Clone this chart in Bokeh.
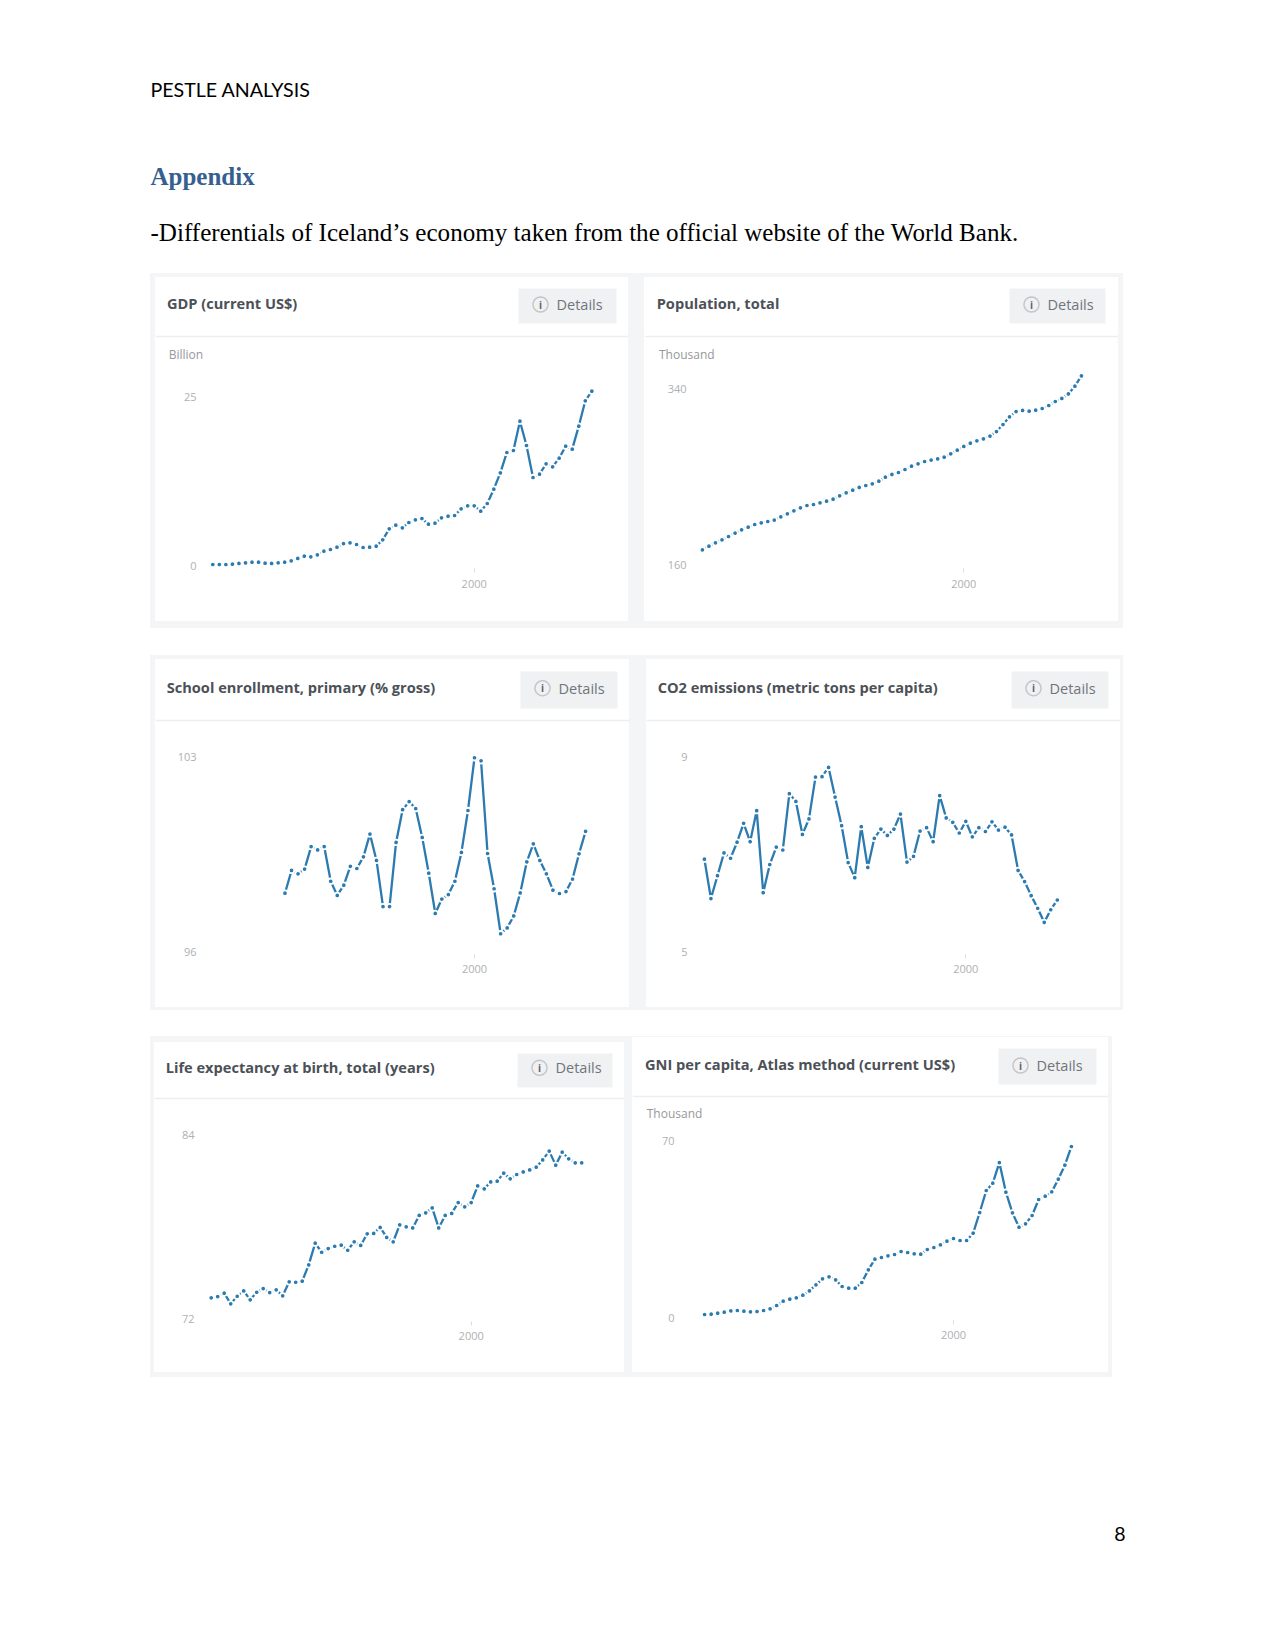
from bokeh.embed import file_html
from bokeh.resources import INLINE
from bokeh.layouts import column, row
from bokeh.models import BoxAnnotation, FixedTicker, Label, PolyAnnotation, Range1d
from bokeh.plotting import figure
import math

years_gdp = list(range(1960, 2019))
gdp = [0.15,0.15,0.15,0.2,0.3,0.39,0.49,0.49,0.35,0.3,0.39,0.49,0.69,1.04,1.38,1.28,1.58,2.12,2.37,2.71,3.25,3.35,3.11,2.66,2.71,2.86,3.8,5.42,5.97,5.57,6.36,6.76,6.95,6.11,6.26,7.05,7.3,7.4,8.38,8.83,8.83,8.04,9.17,11.29,13.71,16.72,17.01,21.35,17.75,13.02,13.51,15.04,14.6,15.88,17.65,17.21,20.61,24.36,25.79]
years_pop = list(range(1960, 2019))
population = [175.4,179.1,182.5,185.6,189.0,192.5,195.9,198.6,201.3,203.0,204.4,205.8,209.2,212.3,215.3,218.4,220.8,221.8,223.5,225.2,227.3,230.7,233.8,236.5,239.3,241.3,243.0,245.7,249.8,252.6,254.6,257.7,261.1,263.5,265.9,267.3,268.6,270.3,273.8,277.5,281.3,284.7,287.1,289.1,291.9,296.6,303.8,311.7,317.1,318.2,317.5,318.5,320.2,323.3,327.4,330.5,335.2,343.1,353.7]
years_school = list(range(1971, 2018))
school = [98.10,98.92,98.80,98.97,99.78,99.66,99.78,98.53,98.02,98.39,99.07,98.99,99.41,100.23,99.28,97.62,97.62,99.93,101.11,101.40,101.15,100.11,98.82,97.37,97.89,98.05,98.53,99.57,101.08,102.98,102.87,99.53,98.26,96.64,96.85,97.28,98.11,99.23,99.88,99.28,98.80,98.21,98.09,98.16,98.61,99.52,100.33]
years_co2 = list(range(1960, 2015))
co2 = [6.90,6.09,6.56,7.03,6.92,7.25,7.64,7.26,7.90,6.21,6.79,7.15,7.09,8.25,8.09,7.41,7.73,8.59,8.60,8.79,8.18,7.59,6.83,6.52,7.57,6.73,7.33,7.52,7.39,7.52,7.83,6.84,6.96,7.48,7.55,7.26,8.21,7.75,7.66,7.44,7.68,7.36,7.55,7.47,7.67,7.50,7.56,7.40,6.67,6.44,6.15,5.89,5.60,5.86,6.06]
years_life = list(range(1960, 2018))
life = [73.39,73.47,73.69,73.00,73.49,73.84,73.26,73.75,73.99,73.73,73.91,73.52,74.43,74.40,74.47,75.53,76.94,76.35,76.59,76.74,76.81,76.48,77.03,76.79,77.55,77.57,77.96,77.31,77.03,78.13,78.00,77.93,78.74,78.91,79.23,77.93,78.74,78.87,79.58,79.30,79.58,80.66,80.47,80.92,80.97,81.49,81.12,81.40,81.57,81.70,81.88,82.35,82.92,82.01,82.85,82.42,82.16,82.16]
years_gni = list(range(1962, 2019))
gni = [1.19,1.32,1.72,2.12,2.65,2.78,2.51,2.25,2.38,2.78,3.44,4.76,6.48,7.28,7.81,8.87,10.59,12.97,15.35,16.14,14.95,12.31,11.65,11.65,13.89,18.92,23.16,23.82,24.48,25.01,26.2,25.8,25.27,25.14,26.99,27.79,28.85,30.3,31.36,30.57,30.57,33.48,41.68,50.42,53.33,61.53,49.76,41.55,35.86,37.18,40.49,46.85,48.17,49.89,54.92,60.48,67.89]

BAND = "#f4f5f7"
BLUE = "#2b7ab0"
FONT = "Open Sans"
WHITE = {"background-color": "#ffffff"}


def text(p, fx, fy, x, y, s, size, color, font=FONT, style="normal", align="left"):
    p.add_layout(Label(x=x - fx, y=y - fy, x_units="canvas", y_units="canvas", text=s,
                       text_font=font, text_font_size=size, text_font_style=style,
                       text_color=color, text_align=align, text_baseline="middle"))


def box(p, fx, fy, l, r, t, b, fill):
    p.add_layout(BoxAnnotation(left=l - fx, right=r - fx, top=t - fy, bottom=b - fy,
                               left_units="canvas", right_units="canvas",
                               top_units="canvas", bottom_units="canvas",
                               fill_color=fill, fill_alpha=1, line_alpha=0, level="underlay"))


def blank(w, h, **kw):
    p = figure(width=w, height=h, x_range=Range1d(0, 1), y_range=Range1d(0, 1),
               x_axis_location=None, y_axis_location=None, toolbar_location=None,
               output_backend="svg", min_border=0, outline_line_color=None,
               frame_align=False, border_fill_color=None, background_fill_color=None,
               styles=WHITE, **kw)
    p.grid.visible = False
    return p


def panel(outer, white, hline, split, title, title_xy, btn, unit, unit_xy, years, vals,
          ticks, tick_px, x2000, step, tick_right, frame_bottom, label_cy, prev_right):
    L, R, T, B = white
    W = int(R - L)
    head = blank(W, int(split - T), margin=(0, 0, 0, 0))
    box(head, L, T, L, R, hline - 0.8, hline + 0.8, "#eceef0")
    box(head, L, T, btn[0], btn[1], btn[2], btn[3], "#f0f1f3")
    cy = title_xy[1]
    cx = btn[0] + 22
    head.add_layout(PolyAnnotation(
        xs=[cx - L + 7.5 * math.cos(i * math.pi / 16) for i in range(32)],
        ys=[cy - T + 7.5 * math.sin(i * math.pi / 16) for i in range(32)],
        xs_units="canvas", ys_units="canvas", fill_alpha=0,
        line_color="#5f6469", line_width=1.5))
    text(head, L, T, cx, cy, "i", "10px", "#5f6469", style="bold", align="center")
    text(head, L, T, btn[0] + 38, cy, "Details", "14.5px", "#6f757b")
    text(head, L, T, title_xy[0] - 0.5, cy - 1.2, title, "14.6px", "#4c5157", style="bold")
    if unit:
        text(head, L, T, unit_xy[0] - 0.5, unit_xy[1] - 0.5, unit, "12px", "#96999c")

    left = tick_right + 5
    right = R - 2
    x0 = 2000 + (left - x2000) / step
    x1 = 2000 + (right - x2000) / step
    k = (ticks[1] - ticks[0]) / (tick_px[1] - tick_px[0])
    y_at = lambda px: ticks[0] + (px - tick_px[0]) * k
    p = figure(width=W, height=int(B - split), x_range=Range1d(x0, x1),
               y_range=Range1d(y_at(frame_bottom), y_at(split)),
               toolbar_location=None, output_backend="svg",
               min_border_left=int(left - L), min_border_right=int(R - right),
               min_border_top=0, min_border_bottom=int(B - frame_bottom),
               margin=(0, 0, 0, 0), outline_line_color=None, frame_align=False,
               border_fill_color=None, background_fill_color=None, styles=WHITE)
    p.grid.visible = False
    ya = p.yaxis[0]
    ya.ticker = FixedTicker(ticks=list(ticks))
    ya.axis_line_color = None
    ya.major_tick_line_color = None
    ya.minor_tick_line_color = None
    ya.major_label_standoff = 0
    ya.major_label_text_font = FONT
    ya.major_label_text_font_size = "11px"
    ya.major_label_text_color = "#aeb0b2"
    xa = p.xaxis[0]
    xa.ticker = FixedTicker(ticks=[2000])
    xa.axis_line_color = None
    xa.major_tick_line_color = "#dcdcdc"
    xa.major_tick_in = 0
    xa.major_tick_out = 4
    xa.minor_tick_line_color = None
    xa.major_label_standoff = int(label_cy - frame_bottom - 9)
    xa.major_label_text_font = FONT
    xa.major_label_text_font_size = "11px"
    xa.major_label_text_color = "#aeb0b2"

    p.line(years, vals, line_color=BLUE, line_width=2.3)
    p.scatter(years, vals, size=5.5, fill_color=BLUE, line_color="#ffffff", line_width=1.8)
    return column(head, p, spacing=0,
                  margin=(int(T - outer), 0, 0, int(L - prev_right)))


p1 = panel(273, (155, 628, 277, 621), 336, 362, "GDP (current US$)", (167, 304),
           (518, 616, 288, 323), "Billion", (168.7, 354), years_gdp, gdp, (0, 25), (565, 396),
           473.7, 6.535, 197, 568, 584, 150)
p2 = panel(273, (644, 1118, 277, 621), 336, 362, "Population, total", (656.7, 304),
           (1009, 1105, 288, 323), "Thousand", (659, 354), years_pop, population, (160, 340), (564.3, 388.7),
           963.3, 6.535, 687, 568, 584, 628)
p3 = panel(655, (155, 629, 659, 1007), 720, 726, "School enrollment, primary (% gross)", (166.7, 687.7),
           (520, 617, 671, 708), None, None, years_school, school, (96, 103), (951, 756.7),
           474, 6.535, 197, 954, 969, 150)
p4 = panel(655, (646, 1120, 659, 1007), 720, 726, "CO2 emissions (metric tons per capita)", (657.7, 687.7),
           (1011, 1108, 671, 708), None, None, years_co2, co2, (5, 9), (951, 756.7),
           965.3, 6.535, 688, 954, 969, 629)
p5 = panel(1036, (154, 624, 1042, 1372), 1098, 1104, "Life expectancy at birth, total (years)", (165.7, 1067.3),
           (517, 612, 1053, 1087), None, None, years_life, life, (72, 84), (1318.7, 1134),
           470.7, 6.5, 195, 1321, 1336, 150)
p6 = panel(1036, (632, 1108, 1037, 1372), 1096, 1122, "GNI per capita, Atlas method (current US$)", (645, 1065),
           (998, 1096, 1048, 1084), "Thousand", (646.7, 1113), years_gni, gni, (0, 70), (1317, 1140.7),
           953, 6.55, 675, 1320, 1335, 624)

head = blank(1275, 273, margin=(0, 0, 0, 0))
text(head, 0, 0, 150, 88.5, "PESTLE ANALYSIS", "19.6px", "#000000", font="Lato")
text(head, 0, 0, 150, 176, "Appendix", "25px", "#365f91", font="Liberation Serif", style="bold")
text(head, 0, 0, 150, 232, "-Differentials of Iceland\u2019s economy taken from the official website of the World Bank.",
     "25.09px", "#000000", font="Liberation Serif")
gap1 = blank(1275, 27, margin=(0, 0, 0, 0))
gap2 = blank(1275, 26, margin=(0, 0, 0, 0))
foot = blank(1275, 274, margin=(0, 0, 0, 0))
text(foot, 0, 1377, 1125, 1533, "8", "19.6px", "#000000", font="Lato", align="right")

band = {"background-color": BAND}
row1 = row(p1, p2, spacing=0, width=973, height=355, margin=(0, 0, 0, 150), styles=band)
row2 = row(p3, p4, spacing=0, width=973, height=355, margin=(0, 0, 0, 150), styles=band)
row3 = row(p5, p6, spacing=0, width=962, height=341, margin=(0, 0, 0, 150), styles=band)

page = column(head, row1, gap1, row2, gap2, row3, foot, spacing=0)
open("out.html", "w").write(file_html(page, INLINE))
